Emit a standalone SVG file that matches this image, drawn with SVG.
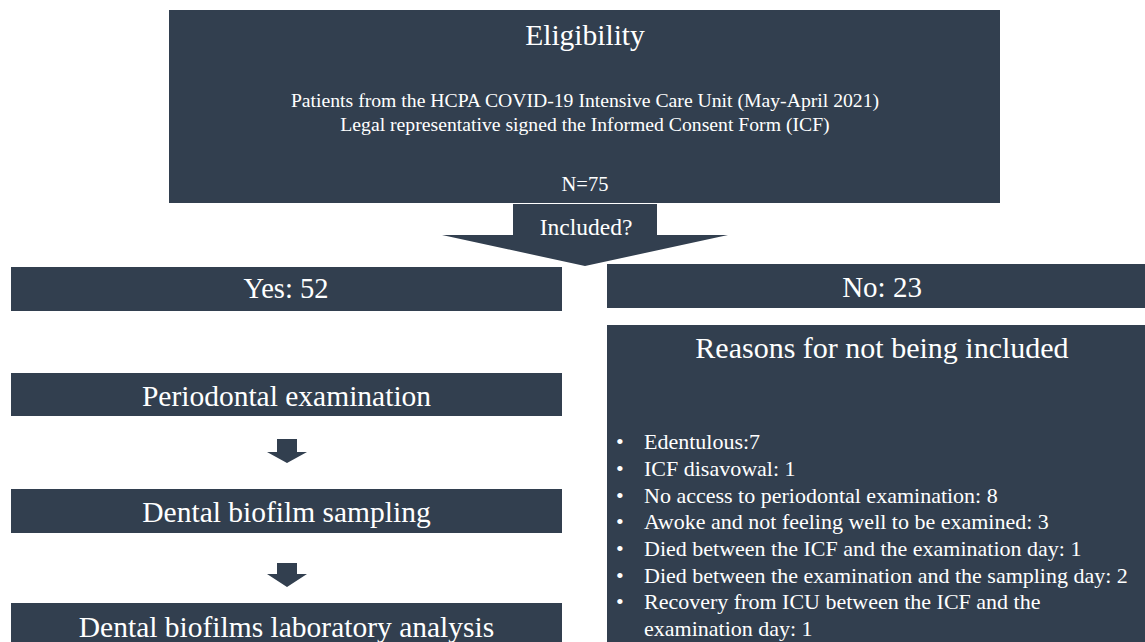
<svg xmlns="http://www.w3.org/2000/svg" width="1145" height="642" viewBox="0 0 1145 642">
<style>
.box{fill:#323f4f}
.t{fill:#ffffff;font-family:"Liberation Serif","Times New Roman",serif}
.c{text-anchor:middle}
.h{font-size:29.5px}
.s{font-size:19.7px}
.b{font-size:22px}
</style>
<rect width="1145" height="642" fill="#ffffff"/>
<g id="eligibility">
<rect class="box" x="169" y="10" width="831" height="193"/>
<text class="t c h" x="585" y="45">Eligibility</text>
<text class="t c s" x="585" y="107">Patients from the HCPA COVID-19 Intensive Care Unit (May-April 2021)</text>
<text class="t c s" x="585" y="131">Legal representative signed the Informed Consent Form (ICF)</text>
<text class="t c" x="585" y="191" style="font-size:20.5px">N=75</text>
</g>
<g id="connectors">
<polygon class="box" points="513,204 657,204 657,235 728,235 585,266 442,235 513,235"/>
<polygon class="box" points="277,439 297,439 297,452 307,452 287,463 267,452 277,452"/>
<polygon class="box" points="277,563 297,563 297,574 307,574 287,587 267,574 277,574"/>
</g>
<g id="included">
<text class="t c" x="586" y="235" style="font-size:23.5px">Included?</text>
</g>
<g id="yes">
<rect class="box" x="11" y="267" width="551" height="44"/>
<text class="t c" x="286" y="298" style="font-size:28.5px">Yes: 52</text>
</g>
<g id="no">
<rect class="box" x="607" y="264" width="550" height="44"/>
<text class="t c" x="882" y="297" style="font-size:29px">No: 23</text>
</g>
<g id="reasons">
<rect class="box" x="607" y="325" width="550" height="330"/>
<text class="t c" x="882" y="358" style="font-size:30px">Reasons for not being included</text>
<g class="t b">
<text x="616" y="449">•</text><text x="644" y="449">Edentulous:7</text>
<text x="616" y="476">•</text><text x="644" y="476">ICF disavowal: 1</text>
<text x="616" y="502.7">•</text><text x="644" y="502.7">No access to periodontal examination: 8</text>
<text x="616" y="529.3">•</text><text x="644" y="529.3">Awoke and not feeling well to be examined: 3</text>
<text x="616" y="556">•</text><text x="644" y="556">Died between the ICF and the examination day: 1</text>
<text x="616" y="582.7">•</text><text x="644" y="582.7">Died between the examination and the sampling day: 2</text>
<text x="616" y="609.3">•</text><text x="644" y="609.3">Recovery from ICU between the ICF and the</text>
<text x="644" y="636">examination day: 1</text>
</g>
</g>
<g id="periodontal">
<rect class="box" x="11" y="373" width="551" height="43"/>
<text class="t c h" x="286.5" y="406">Periodontal examination</text>
</g>
<g id="sampling">
<rect class="box" x="11" y="489" width="551" height="44"/>
<text class="t c h" x="286.5" y="522">Dental biofilm sampling</text>
</g>
<g id="analysis">
<rect class="box" x="11" y="603" width="551" height="50"/>
<text class="t c h" x="286.5" y="636.5">Dental biofilms laboratory analysis</text>
</g>
</svg>
